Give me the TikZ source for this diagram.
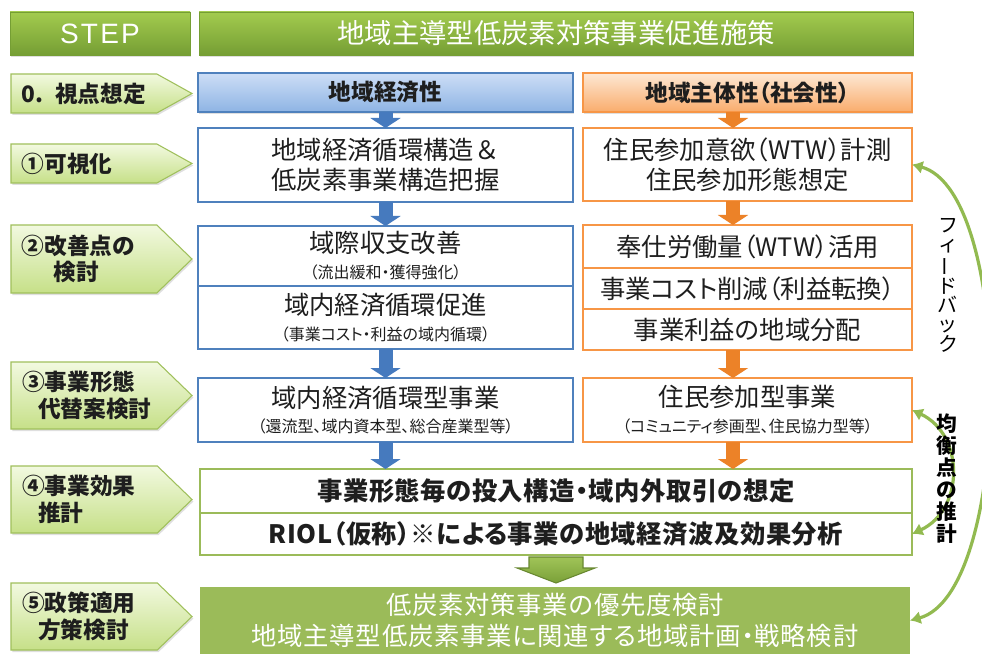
\documentclass[tikz,border=0pt]{standalone}
\usepackage{fontspec}
\setmainfont{Noto Sans CJK JP}[RawFeature=+palt]
\newfontfamily\latinsf[LetterSpace=8]{Liberation Sans}
\usepackage{graphicx}
\usepackage{tikz}
\usetikzlibrary{shapes.symbols}
\usetikzlibrary{arrows.meta}
\usetikzlibrary{shadows}
\usetikzlibrary{calc}
\usepackage{xcolor}

\definecolor{hdtop}{RGB}{163,203,78}
\definecolor{hdbot}{RGB}{117,158,52}
\definecolor{steptop}{RGB}{242,249,224}
\definecolor{stepbot}{RGB}{198,224,136}
\definecolor{stepline}{RGB}{160,192,92}
\definecolor{ecoline}{RGB}{79,129,189}
\definecolor{ecotop}{RGB}{205,222,246}
\definecolor{ecobot}{RGB}{142,180,228}
\definecolor{ecoarr}{RGB}{70,122,190}
\definecolor{socline}{RGB}{247,150,70}
\definecolor{soctop}{RGB}{253,232,212}
\definecolor{socbot}{RGB}{249,172,108}
\definecolor{socarr}{RGB}{236,130,40}
\definecolor{effline}{RGB}{155,187,89}
\definecolor{polfill}{RGB}{155,187,89}
\definecolor{bigtop}{RGB}{160,196,88}
\definecolor{bigbot}{RGB}{122,160,56}
\definecolor{fbgreen}{RGB}{146,186,80}
\definecolor{txt}{RGB}{30,30,30}

\newlength\gu
\setlength\gu{0.75pt}
\newcommand\subnote[1]{{\fontsize{12pt}{14pt}\selectfont #1}}

\begin{document}
\begin{tikzpicture}[x=0.75pt,y=-0.75pt,
  every node/.style={inner sep=0pt,outer sep=0pt,text=txt},
  softshadow/.style={drop shadow={opacity=0.25,shadow xshift=1pt,shadow yshift=-1.5pt}},
  header/.style={rectangle,anchor=north west,top color=hdtop,bottom color=hdbot,draw=hdbot,line width=0.4pt,minimum height=43\gu,text=white,softshadow},
  stepbox/.style 2 args={signal,signal to=east,signal pointer angle=#1,minimum height=#2\gu,anchor=west,top color=steptop,bottom color=stepbot,draw=stepline,line width=0.8pt,minimum width=181\gu,text width=124\gu,align=left,font=\fontsize{17pt}{20pt}\selectfont\bfseries,softshadow},
  ecohead/.style={rectangle,anchor=north west,top color=ecotop,bottom color=ecobot,draw=ecoline,line width=1pt,minimum width=375\gu,minimum height=39\gu,font=\fontsize{17pt}{20pt}\selectfont\bfseries,softshadow},
  sochead/.style={rectangle,anchor=north west,top color=soctop,bottom color=socbot,draw=socline,line width=1pt,minimum width=329\gu,minimum height=39\gu,font=\fontsize{17pt}{20pt}\selectfont\bfseries,softshadow},
  ecobox/.style={rectangle,anchor=north west,draw=ecoline,line width=1.6pt,fill=white,minimum width=375\gu,align=center,font=\fontsize{19pt}{22.5pt}\selectfont},
  socbox/.style={rectangle,anchor=north west,draw=socline,line width=1.6pt,fill=white,minimum width=329\gu,align=center,font=\fontsize{19pt}{22.5pt}\selectfont},
  effbox/.style={rectangle,anchor=north west,draw=effline,line width=1.6pt,fill=white,minimum width=712\gu,align=center,font=\fontsize{19pt}{22.5pt}\selectfont\bfseries\addfontfeatures{LetterSpace=2}},
  polbox/.style={rectangle,anchor=north west,fill=polfill,minimum width=710\gu,minimum height=67\gu,align=center,text=white,font=\fontsize{19pt}{23pt}\selectfont\addfontfeatures{LetterSpace=3}},
  ecoarrow/.style={draw=ecoarr,line width=10.5pt,-{Triangle[width=22.5pt,length=7.5pt]}},
  socarrow/.style={draw=socarr,line width=10.5pt,-{Triangle[width=22.5pt,length=7.5pt]}},
  bigarrow/.style={top color=bigtop,bottom color=bigbot,draw=bigbot!85!black,line width=0.8pt},
  fb/.style={draw=fbgreen,line width=2.4pt,{Latex[width=10pt,length=8pt]}-{Latex[width=10pt,length=8pt]}},
  vtext/.style={align=center,text=black}]
\path [use as bounding box,fill=white] (0,0) rectangle (982,656);

\node [header,minimum width=180\gu,font=\latinsf\fontsize{21pt}{22pt}\selectfont] (stephd) at (10,12) {STEP};
\node [header,minimum width=714\gu,font=\fontsize{20.5pt}{24pt}\selectfont] (title) at (199,12) {地域主導型低炭素対策事業促進施策};

\node [stepbox={58}{39}] (s0) at (11,93.5) {0. 視点想定};
\node [stepbox={58}{39}] (s1) at (11,163.5) {①可視化};
\node [stepbox={88}{68}] (s2) at (11,259) {②改善点の\\\hspace*{32\gu}検討};
\node [stepbox={88}{67}] (s3) at (11,395.5) {③事業形態\\\hspace*{16\gu}代替案検討};
\node [stepbox={88}{67}] (s4) at (11,499.5) {④事業効果\\\hspace*{16\gu}推計};
\node [stepbox={88}{67}] (s5) at (11,616.5) {⑤政策適用\\\hspace*{16\gu}方策検討};

\node [ecohead] (eh) at (198,73) {地域経済性};
\node [sochead] (sh) at (583,73) {地域主体性（社会性）};

\node [ecobox,minimum height=74\gu] (b1) at (198,128) {地域経済循環構造{\addfontfeatures{RawFeature=-palt}＆}\\低炭素事業構造把握};
\node [socbox,minimum height=73\gu] (o1) at (583,128) {住民参加意欲（WTW）計測\\住民参加形態想定};

\node [ecobox,minimum height=60\gu] (b2a) at (198,226) {域際収支改善\\[-3pt]\subnote{（流出緩和・獲得強化）}};
\node [ecobox,minimum height=63\gu] (b2b) at (198,286) {域内経済循環促進\\[-3pt]\subnote{（事業コスト・利益の域内循環）}};
\node [socbox,minimum height=43\gu] (o2a) at (583,225) {奉仕労働量（WTW）活用};
\node [socbox,minimum height=41\gu] (o2b) at (583,268) {事業コスト削減（利益転換）};
\node [socbox,minimum height=41\gu] (o2c) at (583,309) {事業利益の地域分配};

\node [ecobox,minimum height=64\gu] (b3) at (198,378) {域内経済循環型事業\\[-4pt]\subnote{（還流型、域内資本型、総合産業型等）}};
\node [socbox,minimum height=64\gu] (o3) at (583,378) {住民参加型事業\\[-3pt]\subnote{（コミュニティ参画型、住民協力型等）}};

\node [effbox,minimum height=44\gu] (b4a) at (200,469) {事業形態毎の投入構造・域内外取引の想定};
\node [effbox,minimum height=42\gu] (b4b) at (200,513) {RIOL（仮称）※による事業の地域経済波及効果分析};

\node [polbox] (b5) at (200,587) {低炭素対策事業の優先度検討\\地域主導型低炭素事業に関連する地域計画・戦略検討};

\coordinate (ox) at (733,0);
\draw [ecoarrow] (eh.south) -- (b1.north);
\draw [ecoarrow] (b1.south) -- (b2a.north);
\draw [ecoarrow] (b2b.south) -- (b3.north);
\draw [ecoarrow] (b3.south) -- (b3.south |- b4a.north);
\draw [socarrow] (sh.south -| ox) -- (o1.north -| ox);
\draw [socarrow] (o1.south -| ox) -- (o2a.north -| ox);
\draw [socarrow] (o2c.south -| ox) -- (o3.north -| ox);
\draw [socarrow] (o3.south -| ox) -- (b4a.north -| ox);
\draw [bigarrow] ($(b4b.south)+(-27,2)$) -- ++(54,0) -- ++(0,11) -- ++(12,0) -- ($(b4b.south)+(0,28)$) -- ($(b4b.south)+(-39,13)$) -- ++(12,0) -- cycle;

\draw [fb] (o1.east) to [out=-15,in=15,looseness=0.6] (b5.east);
\draw [fb] (o3.east) to [out=-25,in=25,looseness=1.2] (b4b.east);

\node [vtext,font=\fontsize{15pt}{14.5pt}\selectfont] (fbt) at (948,285) {フ\\ィ\\\rotatebox[origin=c]{90}{ー}\\ド\\バ\\ッ\\ク};
\node [vtext,font=\fontsize{15.5pt}{16.5pt}\selectfont\bfseries] (eqt) at (947,479) {均\\衡\\点\\の\\推\\計};
\end{tikzpicture}
\end{document}
